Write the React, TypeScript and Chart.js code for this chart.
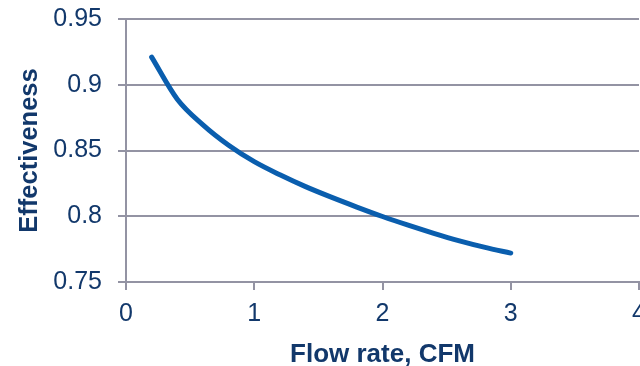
import React, { useEffect, useRef } from "react";
import { Chart, registerables } from "chart.js";

Chart.register(...registerables);

// Heat-exchanger effectiveness versus air flow rate
const flowRate = [0.2, 0.4, 0.6, 0.8, 1.0, 1.2, 1.4, 1.6, 1.8, 2.0, 2.2, 2.4, 2.6, 2.8, 3.0];
const effectiveness = [
  0.921, 0.889, 0.8695, 0.854, 0.8415, 0.8315, 0.8225, 0.8145, 0.807, 0.7998, 0.7932, 0.787,
  0.7813, 0.7763, 0.772,
];

const xTitle = "Flow rate, CFM";
const yTitle = "Effectiveness";

const FONT = "'Liberation Sans', Arial, sans-serif";
const TEXT = "#12386b";
const GRID = "#9393a3";
const LINE = "#0a5eae";

export default function App() {
  const canvasRef = useRef<HTMLCanvasElement | null>(null);

  useEffect(() => {
    if (!canvasRef.current) return;
    const chart = new Chart(canvasRef.current, {
      type: "line",
      data: {
        datasets: [
          {
            data: flowRate.map((x, i) => ({ x, y: effectiveness[i] })),
            borderColor: LINE,
            borderWidth: 5,
            borderCapStyle: "round",
            borderJoinStyle: "round",
            pointRadius: 0,
            cubicInterpolationMode: "monotone",
            fill: false,
          },
        ],
      },
      options: {
        animation: false,
        responsive: false,
        maintainAspectRatio: false,
        layout: { padding: { top: 19, right: 41, left: 0, bottom: 0 } },
        plugins: { legend: { display: false }, tooltip: { enabled: false } },
        scales: {
          x: {
            type: "linear",
            min: 0,
            max: 4,
            afterFit: (s: any) => {
              s.height = 84;
              s.paddingLeft = 0;
              s.paddingRight = 0;
            },
            ticks: {
              stepSize: 1,
              padding: 9,
              color: TEXT,
              font: { family: FONT, size: 25 },
            },
            grid: {
              drawOnChartArea: false,
              drawTicks: true,
              tickLength: 8,
              color: GRID,
              lineWidth: 2,
            },
            border: { color: GRID, width: 2 },
            title: {
              display: true,
              text: xTitle,
              color: TEXT,
              font: { family: FONT, size: 26, weight: "bold", lineHeight: 0.85 },
              padding: { top: 0, bottom: 0 },
            },
          },
          y: {
            type: "linear",
            min: 0.75,
            max: 0.95,
            afterFit: (s: any) => {
              s.width = 126;
              s.paddingTop = 0;
              s.paddingBottom = 0;
            },
            ticks: {
              stepSize: 0.05,
              padding: 16,
              color: TEXT,
              font: { family: FONT, size: 25 },
              callback: (v: any) => String(Math.round(Number(v) * 100) / 100),
            },
            grid: {
              drawTicks: true,
              tickLength: 8,
              color: GRID,
              lineWidth: 2,
            },
            border: { color: GRID, width: 2 },
            title: {
              display: true,
              text: yTitle,
              color: TEXT,
              font: { family: FONT, size: 25.5, weight: "bold", lineHeight: 1 },
              padding: { top: 17, bottom: 0 },
            },
          },
        },
      },
    });
    return () => chart.destroy();
  }, []);

  return (
    <div
      style={{
        position: "absolute",
        left: 0,
        top: 0,
        width: 640,
        height: 366,
        overflow: "hidden",
        background: "#ffffff",
      }}
    >
      <canvas ref={canvasRef} width={680} height={366} style={{ display: "block" }} />
    </div>
  );
}
